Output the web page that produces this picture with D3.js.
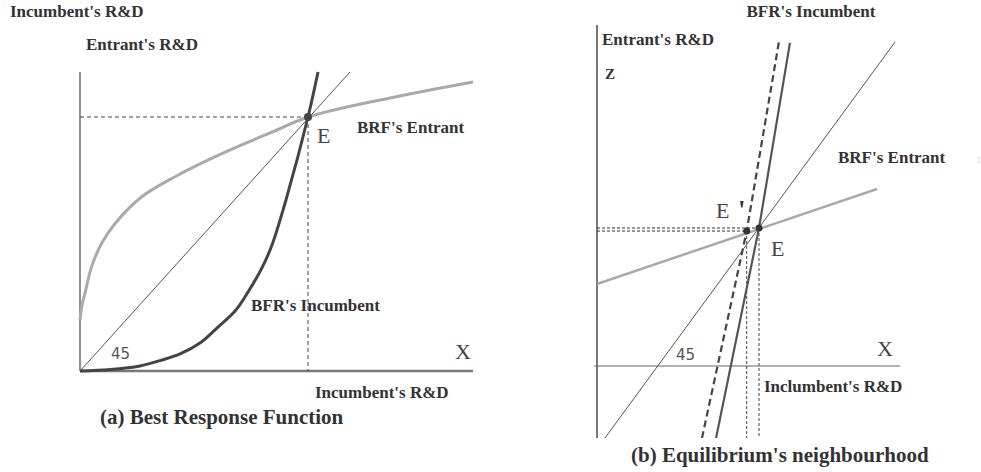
<!DOCTYPE html>
<html>
<head>
<meta charset="utf-8">
<script src="https://cdn.jsdelivr.net/npm/d3@7"></script>
<style>
  body { margin: 0; background: #fff; }
  svg text { font-family: "Liberation Serif", "Times New Roman", serif; fill: #333; }
  .lbl { font-weight: bold; font-size: 17px; }
  .ttl { font-weight: bold; font-size: 21px; }
  .big { font-size: 22px; fill: #444 !important; }
  .num { font-family: "DejaVu Sans", sans-serif !important; font-size: 15px; fill: #555 !important; }
</style>
</head>
<body>
<div id="vis"></div>
<script>
// ---- panel (a): best response functions (E normalised to 1,1) ----
var entrantA = [
  [0, 0.201], [0.009, 0.26], [0.022, 0.307], [0.051, 0.411], [0.095, 0.503],
  [0.154, 0.581], [0.271, 0.686], [0.417, 0.765], [0.563, 0.831], [0.709, 0.89],
  [0.855, 0.945], [1, 1], [1.36, 1.075], [1.724, 1.138]
];
var incumbentA = [
  [0, 0], [0.132, 0.006], [0.263, 0.02], [0.351, 0.041], [0.439, 0.067],
  [0.526, 0.11], [0.605, 0.173], [0.68, 0.236], [0.737, 0.311], [0.798, 0.406],
  [0.842, 0.496], [0.912, 0.701], [1, 1], [1.044, 1.177]
];
var diagonalA = [[0, 0], [1.184, 1.177]];
var eqA = [1, 1];

// ---- panel (b): neighbourhood of equilibrium ----
var diagonalB = [[0.049, -0.522], [1.840, 2.348]];
var entrantB = [[0, 0.594], [1.728, 1.283]];
var incumbentB = [[0.735, -0.522], [1, 1], [1.191, 2.341]];
var incumbentShiftB = [[0.648, -0.522], [0.924, 0.978], [1.123, 2.348]];
var eqB = [1, 1];
var eqShiftB = [0.924, 0.978];

var width = 981, height = 472;
var svg = d3.select('#vis').append('svg')
  .attr('width', width).attr('height', height);

function txt(g, x, y, s, cls) {
  var t = g.append('text').attr('x', x).attr('y', y).text(s);
  if (cls) t.attr('class', cls);
  return t;
}

// ===== panel (a) =====
var xa = d3.scaleLinear().domain([0, 1]).range([80, 308]);
var ya = d3.scaleLinear().domain([0, 1]).range([371, 117]);
var ga = svg.append('g');
var lineA = d3.line().x(function (d) { return xa(d[0]); }).y(function (d) { return ya(d[1]); });
var curveA = d3.line().curve(d3.curveCatmullRom.alpha(0.5))
  .x(function (d) { return xa(d[0]); }).y(function (d) { return ya(d[1]); });

// axes
ga.append('line').attr('x1', xa(0)).attr('x2', xa(0)).attr('y1', ya(1.177)).attr('y2', ya(0))
  .attr('stroke', '#555').attr('stroke-width', 1.3);
ga.append('line').attr('x1', xa(0)).attr('x2', xa(1.724)).attr('y1', ya(0)).attr('y2', ya(0))
  .attr('stroke', '#777').attr('stroke-width', 2.5);

// guides to E
ga.append('line').attr('x1', xa(0)).attr('x2', xa(eqA[0])).attr('y1', ya(eqA[1])).attr('y2', ya(eqA[1]))
  .attr('stroke', '#444').attr('stroke-width', 1).attr('stroke-dasharray', '4,3');
ga.append('line').attr('x1', xa(eqA[0])).attr('x2', xa(eqA[0])).attr('y1', ya(eqA[1])).attr('y2', ya(0))
  .attr('stroke', '#444').attr('stroke-width', 1).attr('stroke-dasharray', '4,3');

ga.append('path').datum(diagonalA).attr('d', lineA)
  .attr('fill', 'none').attr('stroke', '#555').attr('stroke-width', 1);
ga.append('path').datum(entrantA).attr('d', curveA)
  .attr('fill', 'none').attr('stroke', '#aaa').attr('stroke-width', 3);
ga.append('path').datum(incumbentA).attr('d', curveA)
  .attr('fill', 'none').attr('stroke', '#444').attr('stroke-width', 3);
ga.append('circle').attr('cx', xa(eqA[0])).attr('cy', ya(eqA[1])).attr('r', 4).attr('fill', '#444');

txt(ga, 10, 17, "Incumbent's R&D", 'lbl');
txt(ga, 86, 50, "Entrant's R&D", 'lbl');
txt(ga, 317, 143, 'E', 'big');
txt(ga, 357, 133, "BRF's Entrant", 'lbl');
txt(ga, 251, 311, "BFR's Incumbent", 'lbl');
txt(ga, 111, 359, '45', 'num');
txt(ga, 455, 359, 'X', 'big');
txt(ga, 315, 398, "Incumbent's R&D", 'lbl');
txt(ga, 100, 424, '(a) Best Response Function', 'ttl');

// ===== panel (b) =====
var xb = d3.scaleLinear().domain([0, 1]).range([597, 759]);
var yb = d3.scaleLinear().domain([0, 1]).range([366, 228]);
var gb = svg.append('g');
var lineB = d3.line().x(function (d) { return xb(d[0]); }).y(function (d) { return yb(d[1]); });

gb.append('line').attr('x1', xb(0)).attr('x2', xb(0)).attr('y1', yb(2.471)).attr('y2', yb(-0.522))
  .attr('stroke', '#777').attr('stroke-width', 2);
gb.append('line').attr('x1', xb(-0.0185)).attr('x2', xb(1.87)).attr('y1', yb(0)).attr('y2', yb(0))
  .attr('stroke', '#666').attr('stroke-width', 1);

// guides
[eqB, eqShiftB].forEach(function (p) {
  gb.append('line').attr('x1', xb(0)).attr('x2', xb(p[0])).attr('y1', yb(p[1])).attr('y2', yb(p[1]))
    .attr('stroke', '#333').attr('stroke-width', 1).attr('stroke-dasharray', '3,2');
  gb.append('line').attr('x1', xb(p[0])).attr('x2', xb(p[0])).attr('y1', yb(p[1])).attr('y2', yb(-0.522))
    .attr('stroke', '#444').attr('stroke-width', 1).attr('stroke-dasharray', '3,2');
});

gb.append('path').datum(diagonalB).attr('d', lineB)
  .attr('fill', 'none').attr('stroke', '#555').attr('stroke-width', 1);
gb.append('path').datum(entrantB).attr('d', lineB)
  .attr('fill', 'none').attr('stroke', '#aaa').attr('stroke-width', 2.5);
gb.append('path').datum(incumbentShiftB).attr('d', lineB)
  .attr('fill', 'none').attr('stroke', '#444').attr('stroke-width', 2.2).attr('stroke-dasharray', '7,4');
gb.append('path').datum(incumbentB).attr('d', lineB)
  .attr('fill', 'none').attr('stroke', '#555').attr('stroke-width', 2.2);
gb.append('circle').attr('cx', xb(eqShiftB[0])).attr('cy', yb(eqShiftB[1])).attr('r', 3.5).attr('fill', '#333');
gb.append('circle').attr('cx', xb(eqB[0])).attr('cy', yb(eqB[1])).attr('r', 3.5).attr('fill', '#333');

txt(gb, 811, 17, "BFR's Incumbent", 'lbl').attr('text-anchor', 'middle');
txt(gb, 602, 45, "Entrant's R&D", 'lbl');
txt(gb, 605, 79, 'Z', 'lbl').style('font-size', '15px');
txt(gb, 838, 163, "BRF's Entrant", 'lbl');
txt(gb, 977, 163, ':', null).style('font-size', '12px').style('fill', '#bbb');
txt(gb, 716, 218, 'E', 'big');
txt(gb, 738, 219, "'", 'lbl').style('font-size', '27px');
txt(gb, 771, 256, 'E', 'big');
txt(gb, 676, 360, '45', 'num');
txt(gb, 877, 356, 'X', 'big');
txt(gb, 764, 392, "Inclumbent's R&D", 'lbl');
txt(gb, 631, 462, "(b) Equilibrium's neighbourhood", 'ttl');
</script>
</body>
</html>
